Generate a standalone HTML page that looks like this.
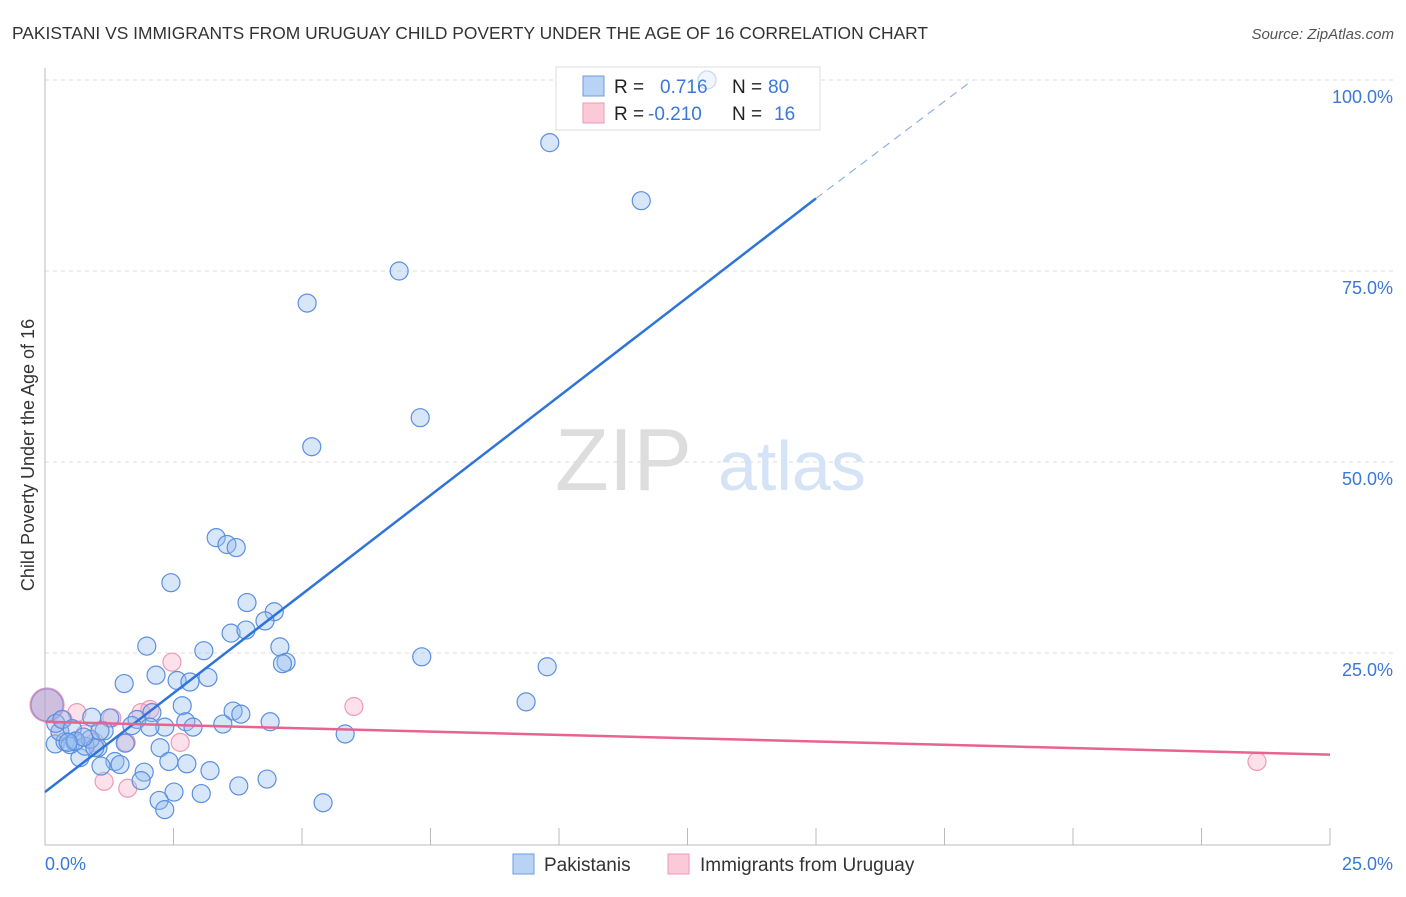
<!DOCTYPE html>
<html><head><meta charset="utf-8">
<style>
body{margin:0;background:#fff;font-family:"Liberation Sans",sans-serif;}
svg text{font-family:"Liberation Sans",sans-serif;}
</style></head>
<body>
<svg id="chart" width="1406" height="892" xmlns="http://www.w3.org/2000/svg">
<text x="12" y="39" font-size="17.4" fill="#333">PAKISTANI VS IMMIGRANTS FROM URUGUAY CHILD POVERTY UNDER THE AGE OF 16 CORRELATION CHART</text>
<text x="1394" y="39" font-size="15" fill="#555" text-anchor="end" font-style="italic">Source: ZipAtlas.com</text>
<text transform="translate(34,455) rotate(-90)" font-size="18" fill="#333" text-anchor="middle">Child Poverty Under the Age of 16</text>
<g id="grid"></g>
<g id="axes"></g>
<text x="555" y="490" font-size="88" fill="#ddd" font-family="Liberation Serif">ZIP</text>
<text x="718" y="490" font-size="70" fill="#d4e3f6">atlas</text>
<g id="marks"></g>
<g>
<rect x="556" y="67" width="264" height="63" fill="#fff" stroke="#ddd"/>
<rect x="583" y="76" width="21" height="20" fill="#b9d3f5" stroke="#6a9be0"/>
<rect x="583" y="103" width="21" height="20" fill="#fbc9d8" stroke="#ef9ab5"/>
<text x="614" y="93" font-size="19" fill="#222">R =</text>
<text x="660" y="93" font-size="19" fill="#3a78d8">0.716</text>
<text x="732" y="93" font-size="19" fill="#222">N =</text>
<text x="768" y="93" font-size="19" fill="#3a78d8">80</text>
<text x="614" y="120" font-size="19" fill="#222">R =</text>
<text x="648" y="120" font-size="19" fill="#3a78d8">-0.210</text>
<text x="732" y="120" font-size="19" fill="#222">N =</text>
<text x="774" y="120" font-size="19" fill="#3a78d8">16</text>
</g>
<g id="overmarks"></g>
<g>
<rect x="513" y="854" width="21" height="20" fill="#b9d3f5" stroke="#6a9be0"/>
<text x="544" y="871" font-size="19" fill="#333">Pakistanis</text>
<rect x="668" y="854" width="21" height="20" fill="#fbc9d8" stroke="#ef9ab5"/>
<text x="700" y="871" font-size="19" fill="#333">Immigrants from Uruguay</text>
</g>
</svg>
<script>
const yTicks=[25,50,75,100];
const yTickLabels=["25.0%","50.0%","75.0%","100.0%"];
const xTickLabels=["0.0%","25.0%"];
const blueX=[12.88,9.82,11.60,6.89,5.10,7.30,5.19,3.33,3.54,3.72,2.45,3.93,4.46,4.28,3.62,3.91,1.98,4.57,4.69,4.62,3.09,2.16,2.57,2.82,3.17,1.54,7.33,9.77,9.36,2.67,3.66,3.81,2.08,1.79,2.74,2.88,3.46,4.38,2.33,2.04,1.26,0.91,5.84,1.69,1.15,2.24,1.56,1.03,1.36,1.46,1.09,0.68,2.41,2.76,1.93,1.87,3.21,3.77,4.32,2.51,2.22,3.04,2.33,5.41,0.04,0.2,0.39,0.49,0.58,0.78,0.88,0.29,0.21,0.33,0.97,0.53,1.07,0.6,0.75,0.45];
const blueY=[100.0,91.8,84.2,75.0,70.8,55.8,52.0,40.1,39.2,38.8,34.2,31.6,30.4,29.2,27.6,28.0,25.9,25.8,23.8,23.6,25.3,22.1,21.4,21.2,21.8,21.0,24.5,23.2,18.6,18.1,17.4,17.0,17.2,16.3,16.0,15.3,15.7,16.0,15.3,15.3,16.5,16.6,14.4,15.5,14.8,12.6,13.2,12.6,10.8,10.4,10.2,11.3,10.8,10.5,9.4,8.3,9.6,7.6,8.5,6.8,5.7,6.6,4.5,5.4,18.2,13.1,13.4,13.0,13.4,12.8,13.7,14.7,15.8,16.3,12.6,15.1,14.8,13.5,14.0,13.3];
const pinkX=[0.04,0.62,0.35,2.47,1.87,2.04,6.01,2.63,1.15,1.61,23.58,1.58,0.97,0.78,1.30,0.29];
const pinkY=[18.2,17.2,16.3,23.8,17.2,17.6,18.0,13.3,8.2,7.3,10.8,13.3,13.3,14.4,16.5,14.7];
const blueTrend=[0.0,6.8,15.0,84.5];
const blueTrendExt=[15.0,84.5,18.05,100.0];
const pinkTrend=[0.0,16.0,25.0,11.7];
const X=v=>45+v*51.4, Y=v=>844-v*7.64;
const NS="http://www.w3.org/2000/svg";
const svg=document.getElementById('chart');
function mk(t,a,p){const e=document.createElementNS(NS,t);for(const k in a)e.setAttribute(k,a[k]);(p||svg).appendChild(e);return e;}
const grid=document.getElementById('grid'),axes=document.getElementById('axes'),marks=document.getElementById('marks'),over=document.getElementById('overmarks');
yTicks.forEach((t,i)=>{
 const l=mk('line',{x1:45,x2:1394,y1:Y(t),y2:Y(t),stroke:'#ddd','stroke-dasharray':'4,4'},grid);
 
 
 const tx=mk('text',{x:1393,y:Y(t)+23,'font-size':18,fill:'#3a78d8','text-anchor':'end'},axes);
 tx.textContent=yTickLabels[i];
 
 
});
mk('line',{x1:45,x2:45,y1:68,y2:845,stroke:'#bbb'},axes);
mk('line',{x1:45,x2:1330,y1:845,y2:845,stroke:'#bbb'},axes);
for(let i=0;i<=10;i++){const t=mk('line',{x1:X(i*2.5),x2:X(i*2.5),y1:828,y2:845,stroke:'#bbb'},axes);
 
 }
[[0,'start',45],[25,'end',1393]].forEach((d,i)=>{const t=mk('text',{x:d[2],y:870,'font-size':18,fill:'#3a78d8','text-anchor':d[1]},axes);t.textContent=xTickLabels[i];
 
 });
pinkX.forEach((x,i)=>{const c=mk('circle',{cx:X(x),cy:Y(pinkY[i]),r:i==0?17:9,fill:'rgba(247,170,195,0.35)',stroke:'#ef9ab5','stroke-width':1.2},marks);
 
 });
blueX.forEach((x,i)=>{const big=i==64;const top=blueY[i]>=98;
 const c=mk('circle',{cx:X(x),cy:Y(blueY[i]),r:big?16:9,fill:big?'rgba(150,150,210,0.45)':'rgba(150,190,240,0.38)',stroke:big?'#9a8fd8':'#5b8fe0','stroke-width':1.2,opacity:top?0.35:1},top?over:marks);
 
 });
let l=mk('line',{x1:X(blueTrend[0]),y1:Y(blueTrend[1]),x2:X(blueTrend[2]),y2:Y(blueTrend[3]),stroke:'#2f74d8','stroke-width':2.5},marks);


l=mk('line',{x1:X(blueTrendExt[0]),y1:Y(blueTrendExt[1]),x2:X(blueTrendExt[2]),y2:Y(blueTrendExt[3]),stroke:'#8fb2e6','stroke-width':1.2,'stroke-dasharray':'8,6'},marks);


l=mk('line',{x1:X(pinkTrend[0]),y1:Y(pinkTrend[1]),x2:X(pinkTrend[2]),y2:Y(pinkTrend[3]),stroke:'#e8638f','stroke-width':2.5},marks);


</script>
</body></html>
